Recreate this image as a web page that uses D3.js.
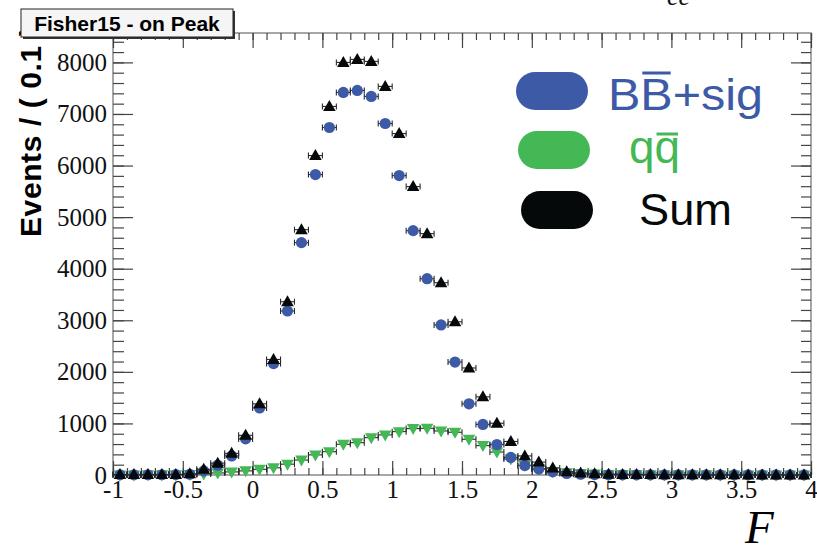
<!DOCTYPE html>
<html>
<head>
<meta charset="utf-8">
<script src="https://cdn.jsdelivr.net/npm/d3@7"></script>
<style>
  body { margin: 0; background: #fff; }
  svg { display: block; }
</style>
</head>
<body>
<svg width="817" height="547"></svg>
<script>
// bin centres of F (bin width 0.1)
const binCenters = [
  -0.95, -0.85, -0.75, -0.65, -0.55, -0.45, -0.35, -0.25, -0.15, -0.05,
  0.05, 0.15, 0.25, 0.35, 0.45, 0.55, 0.65, 0.75, 0.85, 0.95,
  1.05, 1.15, 1.25, 1.35, 1.45, 1.55, 1.65, 1.75, 1.85, 1.95,
  2.05, 2.15, 2.25, 2.35, 2.45, 2.55, 2.65, 2.75, 2.85, 2.95,
  3.05, 3.15, 3.25, 3.35, 3.45, 3.55, 3.65, 3.75, 3.85, 3.95
];
// BBbar + sig (blue circles)
const bbSig = [
  5, 5, 5, 5, 8, 15, 80, 190, 370, 700,
  1300, 2160, 3180, 4505, 5825, 6738, 7417, 7456, 7340, 6815,
  5806, 4738, 3806, 2910, 2190, 1380, 980, 590, 340, 185,
  115, 60, 30, 15, 8, 4, 3, 3, 2, 2,
  2, 2, 2, 2, 2, 2, 2, 2, 2, 2
];
// qqbar (green down triangles)
const qqbar = [
  2, 2, 3, 3, 5, 8, 20, 40, 60, 80,
  110, 140, 210, 290, 390, 452, 596, 627, 724, 777,
  841, 900, 905, 854, 829, 693, 570, 445, 310, 185,
  120, 70, 45, 30, 20, 12, 10, 8, 6, 5,
  4, 3, 3, 2, 2, 2, 1, 1, 1, 1
];
// Sum (black triangles)
const sumVals = [
  8, 8, 8, 8, 12, 25, 110, 230, 420, 770,
  1380, 2240, 3360, 4757, 6194, 7146, 8000, 8058, 8019, 7534,
  6620, 5592, 4680, 3728, 2970, 2075, 1515, 1003, 650, 370,
  250, 135, 65, 40, 25, 15, 12, 10, 8, 6,
  5, 4, 4, 3, 3, 2, 2, 2, 2, 2
];
const xTicks = [-1, -0.5, 0, 0.5, 1, 1.5, 2, 2.5, 3, 3.5, 4];
const xTickLabels = ['-1', '-0.5', '0', '0.5', '1', '1.5', '2', '2.5', '3', '3.5', '4'];
const yTicks = [0, 1000, 2000, 3000, 4000, 5000, 6000, 7000, 8000];
const binWidth = 0.1;

const colors = { blue: '#3d5aa7', green: '#43b855', black: '#060909' };

const svg = d3.select('svg');
const margin = { top: 33, right: 6, bottom: 72, left: 113 };
const width = +svg.attr('width');
const height = +svg.attr('height');
const innerWidth = width - margin.left - margin.right;
const innerHeight = height - margin.top - margin.bottom;

const x = d3.scaleLinear().domain([-1, 4]).range([0, innerWidth]);
const y = d3.scaleLinear().domain([0, 8570]).range([innerHeight, 0]);

const g = svg.append('g').attr('transform', `translate(${margin.left},${margin.top})`);

// small cropped text at the very top
svg.append('text')
  .attr('x', 667).attr('y', 5)
  .attr('font-family', 'Liberation Serif').attr('font-style', 'italic')
  .attr('font-size', 26).attr('fill', '#111')
  .text('ee');

// frame
g.append('rect')
  .attr('width', innerWidth).attr('height', innerHeight)
  .attr('fill', 'none').attr('stroke', '#8a8a8a').attr('stroke-width', 1.5);

const minorX = d3.range(0, 51).map(i => -1 + i * binWidth);
const minorY = d3.range(0, 43).map(i => i * 200);

function tickAxis(axis, sel) {
  sel.call(axis);
  sel.select('.domain').remove();
  sel.selectAll('line').attr('stroke', '#444').attr('stroke-width', 1.2);
}

// bottom axis
tickAxis(d3.axisBottom(x).tickValues(minorX).tickSizeInner(-7).tickSizeOuter(0).tickFormat(''),
  g.append('g').attr('transform', `translate(0,${innerHeight})`));
const xAxisG = g.append('g').attr('transform', `translate(0,${innerHeight})`);
tickAxis(d3.axisBottom(x).tickValues(xTicks).tickSizeInner(-14).tickSizeOuter(0).tickPadding(5)
  .tickFormat((d, i) => xTickLabels[i]), xAxisG);

// top axis
tickAxis(d3.axisTop(x).tickValues(minorX).tickSizeInner(-7).tickSizeOuter(0).tickFormat(''), g.append('g'));
tickAxis(d3.axisTop(x).tickValues(xTicks).tickSizeInner(-15).tickSizeOuter(0).tickFormat(''), g.append('g'));

// left axis
tickAxis(d3.axisLeft(y).tickValues(minorY).tickSizeInner(-11).tickSizeOuter(0).tickFormat(''), g.append('g'));
const yAxisG = g.append('g');
tickAxis(d3.axisLeft(y).tickValues(yTicks).tickSizeInner(-20).tickSizeOuter(0).tickPadding(6)
  .tickFormat(d3.format('d')), yAxisG);

// right axis
tickAxis(d3.axisRight(y).tickValues(minorY).tickSizeInner(-10).tickSizeOuter(0).tickFormat(''),
  g.append('g').attr('transform', `translate(${innerWidth},0)`));
tickAxis(d3.axisRight(y).tickValues(yTicks).tickSizeInner(-20).tickSizeOuter(0).tickFormat(''),
  g.append('g').attr('transform', `translate(${innerWidth},0)`));

svg.selectAll('.tick text')
  .attr('font-family', 'Liberation Serif').attr('font-size', 25).attr('fill', '#111');

// axis titles
svg.append('text')
  .attr('transform', 'translate(41,237) rotate(-90)')
  .attr('font-family', 'Liberation Sans').attr('font-weight', 'bold')
  .attr('font-size', 30).attr('letter-spacing', 0.6).attr('fill', '#000')
  .text('Events / ( 0.1 )');

svg.append('text')
  .attr('x', 745).attr('y', 543)
  .attr('font-family', 'Liberation Serif').attr('font-style', 'italic')
  .attr('font-size', 47).attr('fill', '#000')
  .text('F');

// data points with horizontal bin-width error bars
const series = [
  { name: 'qqbar', values: qqbar, color: colors.green, shape: 'down' },
  { name: 'bbsig', values: bbSig, color: colors.blue, shape: 'circle' },
  { name: 'sum', values: sumVals, color: colors.black, shape: 'up' }
];

const pts = g.append('g');
series.forEach(s => {
  const data = binCenters.map((c, i) => ({ c: c, v: s.values[i] }));
  const sg = pts.append('g').attr('class', s.name);

  const eb = sg.selectAll('g.err').data(data).enter().append('g').attr('class', 'err')
    .attr('stroke', '#2a2a2a').attr('stroke-width', 1.1);
  eb.append('line')
    .attr('x1', d => x(d.c - binWidth / 2)).attr('x2', d => x(d.c + binWidth / 2))
    .attr('y1', d => y(d.v)).attr('y2', d => y(d.v));
  eb.append('line')
    .attr('x1', d => x(d.c - binWidth / 2)).attr('x2', d => x(d.c - binWidth / 2))
    .attr('y1', d => y(d.v) - 3).attr('y2', d => y(d.v) + 3);
  eb.append('line')
    .attr('x1', d => x(d.c + binWidth / 2)).attr('x2', d => x(d.c + binWidth / 2))
    .attr('y1', d => y(d.v) - 3).attr('y2', d => y(d.v) + 3);

  if (s.shape === 'circle') {
    sg.selectAll('circle').data(data).enter().append('circle')
      .attr('cx', d => x(d.c)).attr('cy', d => y(d.v))
      .attr('r', 5.6).attr('fill', s.color);
  } else {
    const p = s.shape === 'up' ? 'M0,-6.5L6.3,4.5L-6.3,4.5Z' : 'M0,6.5L6.3,-4.5L-6.3,-4.5Z';
    sg.selectAll('path.m').data(data).enter().append('path').attr('class', 'm')
      .attr('d', p)
      .attr('transform', d => `translate(${x(d.c)},${y(d.v)})`)
      .attr('fill', s.color);
  }
});

// legend
const legendItems = [
  { label: 'BB+sig', color: colors.blue, bar: 1, px: 516, py: 72, tx: 608, ty: 110, size: 44, len: 155 },
  { label: 'qq', color: colors.green, bar: 1, px: 518, py: 131, tx: 629, ty: 163, size: 46, len: 51 },
  { label: 'Sum', color: colors.black, bar: -1, px: 521, py: 191, tx: 639, ty: 225, size: 44, len: 93 }
];
const legend = svg.append('g');
legendItems.forEach(d => {
  legend.append('rect')
    .attr('x', d.px).attr('y', d.py).attr('width', 72).attr('height', 38)
    .attr('rx', 19).attr('ry', 19).attr('fill', d.color);
  const t = legend.append('text')
    .attr('x', d.tx).attr('y', d.ty)
    .attr('font-family', 'Liberation Sans').attr('font-size', d.size)
    .attr('fill', d.color)
    .attr('textLength', d.len).attr('lengthAdjust', 'spacingAndGlyphs')
    .text(d.label);
  if (d.bar >= 0) {
    const ext = t.node().getExtentOfChar(d.bar);
    const barY = d.label === 'qq' ? 134 : 73;
    legend.append('line')
      .attr('x1', ext.x + 2).attr('x2', ext.x + ext.width - 2)
      .attr('y1', barY).attr('y2', barY)
      .attr('stroke', d.color).attr('stroke-width', 3);
  }
});

// title box (drawn last so it covers the end of the y title, as in the original)
const title = svg.append('g');
title.append('rect')
  .attr('x', 23).attr('y', 11).attr('width', 212).attr('height', 28)
  .attr('fill', '#333');
title.append('rect')
  .attr('x', 21).attr('y', 9).attr('width', 212).attr('height', 28)
  .attr('fill', '#f5f5f5').attr('stroke', '#222').attr('stroke-width', 1);
title.append('text')
  .attr('x', 127).attr('y', 31).attr('text-anchor', 'middle')
  .attr('font-family', 'Liberation Sans').attr('font-weight', 'bold')
  .attr('font-size', 21).attr('fill', '#000')
  .text('Fisher15 - on Peak');
</script>
</body>
</html>
